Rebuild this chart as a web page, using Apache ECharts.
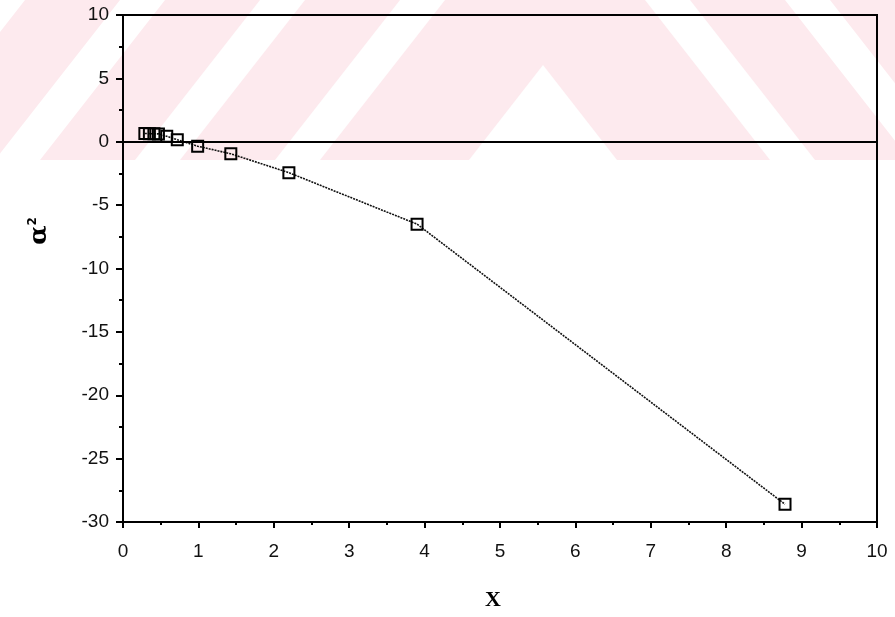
<!DOCTYPE html>
<html>
<head>
<meta charset="utf-8">
<script src="https://cdn.jsdelivr.net/npm/echarts@6/dist/echarts.min.js"></script>
<style>
  html, body { margin: 0; padding: 0; background: #fff; }
  #chart { width: 895px; height: 617px; }
</style>
</head>
<body>
<div id="chart"></div>
<script>
// Measured points: x against alpha squared
const xValues = [0.29, 0.35, 0.41, 0.47, 0.58, 0.72, 0.99, 1.43, 2.2, 3.9, 8.78];
const alphaSq = [0.65, 0.64, 0.63, 0.62, 0.43, 0.16, -0.35, -0.95, -2.44, -6.5, -28.6];

// Axis ranges and tick spacing
const xRange = [0, 10];
const xStep = 1;
const yRange = [-30, 10];
const yStep = 5;

const points = xValues.map((x, i) => [x, alphaSq[i]]);

// Light pink band with diagonal stripes behind the top of the plot
const PINK = '#fdeaee';
const band = [{
  type: 'rect', z: -10, silent: true,
  shape: { x: 0, y: 0, width: 895, height: 160 },
  style: { fill: PINK }
}];
[-20, 120, 260, 400].forEach(t => {
  band.push({
    type: 'polygon', z: -9, silent: true,
    shape: { points: [[t, 0], [t + 45, 0], [t - 80, 160], [t - 125, 160]] },
    style: { fill: '#fff' }
  });
  const m = 1090 - t;
  band.push({
    type: 'polygon', z: -9, silent: true,
    shape: { points: [[m, 0], [m - 45, 0], [m + 80, 160], [m + 125, 160]] },
    style: { fill: '#fff' }
  });
});
band.push({
  type: 'polygon', z: -9, silent: true,
  shape: { points: [[543, 65], [469, 160], [617, 160]] },
  style: { fill: '#fff' }
});

const labelFont = { color: '#111', fontFamily: 'Liberation Sans', fontSize: 19 };

const chart = echarts.init(document.getElementById('chart'), null, { renderer: 'canvas' });
chart.setOption({
  backgroundColor: '#fff',
  animation: false,
  grid: {
    left: 123, right: 18, top: 15, bottom: 95,
    show: true, borderColor: '#000', borderWidth: 2,
    backgroundColor: 'transparent'
  },
  graphic: band.concat([{
    type: 'text', x: 39, y: 231, rotation: Math.PI / 2, z: 10,
    style: {
      text: '{a|α}{s|2}',
      align: 'center', verticalAlign: 'middle',
      rich: {
        a: { fontFamily: 'DejaVu Serif', fontWeight: 'bold', fontSize: 25, fill: '#000', verticalAlign: 'bottom' },
        s: { fontFamily: 'DejaVu Sans', fontWeight: 'bold', fontSize: 12, fill: '#000', verticalAlign: 'top' }
      }
    }
  }]),
  xAxis: {
    type: 'value', min: xRange[0], max: xRange[1], interval: xStep,
    name: 'X', nameLocation: 'middle', nameGap: 67,
    nameTextStyle: { fontFamily: 'Liberation Serif', fontWeight: 'bold', fontSize: 22, color: '#000', padding: [0, 14, 0, 0] },
    axisLine: { onZero: false, lineStyle: { color: '#000', width: 2 } },
    axisTick: { length: 6, lineStyle: { color: '#000', width: 2 } },
    minorTick: { show: true, splitNumber: 2, length: 3, lineStyle: { color: '#000', width: 2 } },
    splitLine: { show: false },
    axisLabel: Object.assign({ margin: 20 }, labelFont)
  },
  yAxis: {
    type: 'value', min: yRange[0], max: yRange[1], interval: yStep,
    axisLine: { onZero: false, lineStyle: { color: '#000', width: 2 } },
    axisTick: { length: 7, lineStyle: { color: '#000', width: 2 } },
    minorTick: { show: true, splitNumber: 2, length: 4, lineStyle: { color: '#000', width: 2 } },
    splitLine: { show: false },
    axisLabel: Object.assign({ margin: 14 }, labelFont)
  },
  series: [{
    type: 'line',
    data: points,
    symbol: 'rect',
    symbolSize: 11,
    showSymbol: true,
    lineStyle: { color: '#111', width: 1.6, type: [2, 1] },
    itemStyle: { color: 'rgba(255,255,255,0)', borderColor: '#000', borderWidth: 2 },
    markLine: {
      silent: true, symbol: 'none', animation: false,
      label: { show: false },
      lineStyle: { color: '#000', width: 2, type: 'solid' },
      data: [{ yAxis: 0 }]
    }
  }]
});
</script>
</body>
</html>
